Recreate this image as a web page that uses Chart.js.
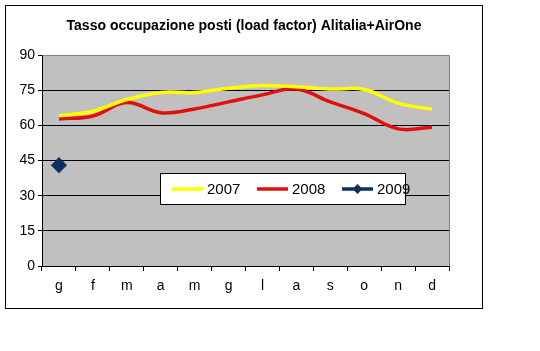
<!DOCTYPE html>
<html>
<head>
<meta charset="utf-8">
<script src="https://cdn.jsdelivr.net/npm/chart.js@4"></script>
<style>
  html, body { margin: 0; padding: 0; background: #fff; }
  #wrap { width: 540px; height: 351px; position: relative; }
</style>
</head>
<body>
<div id="wrap"><canvas id="c" width="540" height="351"></canvas></div>
<script>
const categories = ['g', 'f', 'm', 'a', 'm', 'g', 'l', 'a', 's', 'o', 'n', 'd'];
const yTicks = [0, 15, 30, 45, 60, 75, 90];
const seriesNames = ['2007', '2008', '2009'];
const values2007 = [64.1, 66, 71, 74, 74, 75.8, 77, 76.5, 75.5, 75.3, 69.5, 66.8];
const values2008 = [62.7, 64, 69.7, 65.4, 67, 70, 73, 75.5, 70, 65, 58.5, 59.2];
const values2009 = [43, null, null, null, null, null, null, null, null, null, null, null];
const titleText = 'Tasso occupazione posti (load factor) Alitalia+AirOne';

const colors = ['#ffff00', '#e01010', '#0d3060'];
const FONT = 'Arial, "Liberation Sans", sans-serif';

const framePlugin = {
  id: 'frame',
  beforeDraw(chart) {
    const ctx = chart.ctx, a = chart.chartArea;
    ctx.save();
    ctx.fillStyle = '#fff';
    ctx.fillRect(0, 0, chart.width, chart.height);
    ctx.strokeStyle = '#000';
    ctx.lineWidth = 1;
    ctx.strokeRect(5.5, 5.5, 477, 303);
    ctx.fillStyle = '#c0c0c0';
    ctx.fillRect(a.left, a.top, a.right - a.left, a.bottom - a.top);
    ctx.restore();
  },
  afterDatasetsDraw(chart) {
    const ctx = chart.ctx, a = chart.chartArea;
    ctx.save();
    ctx.strokeStyle = '#808080';
    ctx.lineWidth = 1;
    ctx.beginPath();
    ctx.moveTo(Math.round(a.left) + 0.5, Math.round(a.top) + 0.5);
    ctx.lineTo(Math.round(a.right) + 0.5, Math.round(a.top) + 0.5);
    ctx.lineTo(Math.round(a.right) + 0.5, Math.round(a.bottom));
    ctx.stroke();
    ctx.restore();
  },
  afterDraw(chart) {
    const ctx = chart.ctx;
    ctx.save();
    // title
    ctx.fillStyle = '#000';
    ctx.font = 'bold 14px ' + FONT;
    ctx.textAlign = 'center';
    ctx.textBaseline = 'middle';
    ctx.fillText(titleText, 244, 26);
    ctx.textAlign = 'left';
    // legend box
    const bx = 160.5, by = 173.5, bw = 245, bh = 31;
    ctx.fillStyle = '#fff';
    ctx.fillRect(bx, by, bw, bh);
    ctx.strokeStyle = '#000';
    ctx.lineWidth = 1;
    ctx.strokeRect(bx, by, bw, bh);
    const cy = 189;
    const items = [
      { x0: 172, x1: 203, tx: 207 },
      { x0: 257, x1: 288, tx: 292 },
      { x0: 342, x1: 373, tx: 377 }
    ];
    ctx.font = '15px ' + FONT;
    ctx.textBaseline = 'middle';
    items.forEach((it, i) => {
      ctx.strokeStyle = colors[i];
      ctx.lineWidth = 3.5;
      ctx.beginPath();
      ctx.moveTo(it.x0, cy);
      ctx.lineTo(it.x1, cy);
      ctx.stroke();
      if (i === 2) {
        const mx = (it.x0 + it.x1) / 2;
        ctx.fillStyle = colors[i];
        ctx.beginPath();
        ctx.moveTo(mx, cy - 5);
        ctx.lineTo(mx + 5, cy);
        ctx.lineTo(mx, cy + 5);
        ctx.lineTo(mx - 5, cy);
        ctx.closePath();
        ctx.fill();
      }
      ctx.fillStyle = '#000';
      ctx.fillText(seriesNames[i], it.tx, cy + 0.5);
    });
    ctx.restore();
  }
};

new Chart(document.getElementById('c'), {
  type: 'line',
  data: {
    labels: categories,
    datasets: [
      { label: seriesNames[0], data: values2007, borderColor: colors[0], borderWidth: 3.5, pointRadius: 0, tension: 0.4, fill: false },
      { label: seriesNames[1], data: values2008, borderColor: colors[1], borderWidth: 3.5, pointRadius: 0, tension: 0.4, fill: false },
      { label: seriesNames[2], data: values2009, borderColor: colors[2], backgroundColor: colors[2], borderWidth: 3, pointStyle: 'rectRot', pointRadius: 6, pointHoverRadius: 6, tension: 0.4, fill: false }
    ]
  },
  options: {
    responsive: false,
    animation: false,
    events: [],
    layout: { padding: { left: 6, right: 91, top: 55, bottom: 49 } },
    plugins: {
      legend: { display: false },
      tooltip: { enabled: false },
      title: { display: false }
    },
    scales: {
      x: {
        type: 'category',
        offset: true,
        grid: { display: true, drawOnChartArea: false, drawTicks: true, tickLength: 5, color: '#000', offset: true },
        border: { display: true, color: '#000', width: 1 },
        ticks: { color: '#000', font: { family: FONT, size: 14 }, padding: 7, maxRotation: 0, autoSkip: false },
        afterFit(s) { s.height = 36; }
      },
      y: {
        min: 0, max: 90,
        afterBuildTicks(s) { s.ticks = yTicks.map(v => ({ value: v })); },
        grid: { color: '#000', lineWidth: 1, drawTicks: true, tickLength: 4 },
        border: { display: true, color: '#000', width: 1 },
        ticks: { color: '#000', font: { family: FONT, size: 14 }, padding: 3 },
        afterFit(s) { s.width = 36; }
      }
    }
  },
  plugins: [framePlugin]
});
</script>
</body>
</html>
